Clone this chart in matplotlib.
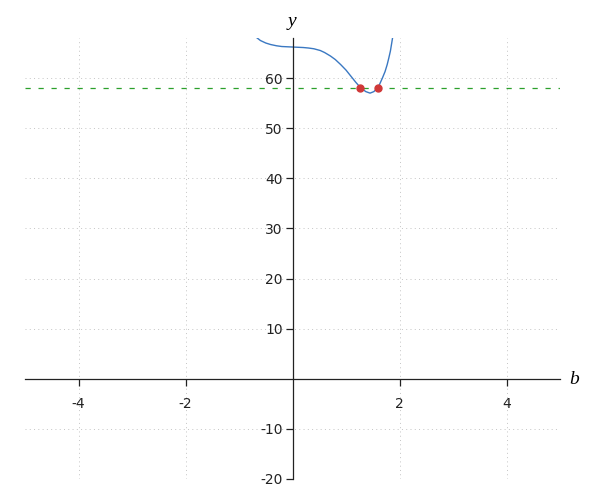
import matplotlib
matplotlib.use("Agg")
import matplotlib.pyplot as plt

plt.rcParams['axes.unicode_minus'] = False

# curve values
curve_b = [-0.70, -0.66, -0.6, -0.5, -0.41, -0.3, -0.2, -0.1, 0.0, 0.1, 0.2, 0.3, 0.4, 0.52,
           0.6, 0.71, 0.8, 0.9, 1.0, 1.09, 1.18, 1.27, 1.37, 1.45, 1.52, 1.60, 1.68,
           1.73, 1.77, 1.80, 1.83, 1.87, 1.89]
curve_y = [68.3, 68.0, 67.5, 67.0, 66.7, 66.45, 66.3, 66.25, 66.2, 66.15, 66.1, 66.0, 65.85, 65.5,
           65.1, 64.4, 63.7, 62.7, 61.6, 60.4, 59.2, 58.1, 57.3, 57.0, 57.3, 58.1, 60.0,
           61.3, 62.7, 64.0, 65.4, 68.0, 69.2]
level = 58
root_b = [1.27, 1.60]
root_y = [58, 58]

x_ticks = [-4, -2, 2, 4]
y_ticks = [-20, -10, 10, 20, 30, 40, 50, 60]

fig = plt.figure(figsize=(6, 5), dpi=100)
ax = fig.add_axes([25/600, 1-479/500, 535/600, (479-38)/500])
ax.set_xlim(-5, 5)
ax.set_ylim(-20, 68)

ax.spines['left'].set_position(('data', 0))
ax.spines['bottom'].set_position(('data', 0))
ax.spines['right'].set_visible(False)
ax.spines['top'].set_visible(False)
for s in ('left', 'bottom'):
    ax.spines[s].set_linewidth(0.9)
    ax.spines[s].set_color('#222222')

ax.set_xticks(x_ticks)
ax.set_yticks(y_ticks)
ax.tick_params(axis='x', direction='out', length=5, width=0.9, labelsize=10, colors='#222222', pad=8)
ax.tick_params(axis='y', direction='out', length=5, width=0.9, labelsize=10, colors='#222222', pad=2)
ax.grid(True, linestyle=(0, (1, 3.4)), color='#c4c4c4', linewidth=0.7)
ax.set_axisbelow(True)

ax.axhline(level, color='#2ca02c', linestyle=(0, (4.2, 6.2)), linewidth=0.9)
ax.plot(curve_b, curve_y, color='#3a78c2', linewidth=1.0, clip_on=True)
ax.plot(root_b, root_y, 'o', color='#d03838', markersize=5, zorder=5)

fig.text(574/600, 1-380/500, 'b', fontsize=14, fontstyle='italic', family='Liberation Serif', ha='center', va='center')
fig.text(292/600, 1-21/500, 'y', fontsize=14, fontstyle='italic', family='Liberation Serif', ha='center', va='center')

fig.savefig('out.png', dpi=100)
